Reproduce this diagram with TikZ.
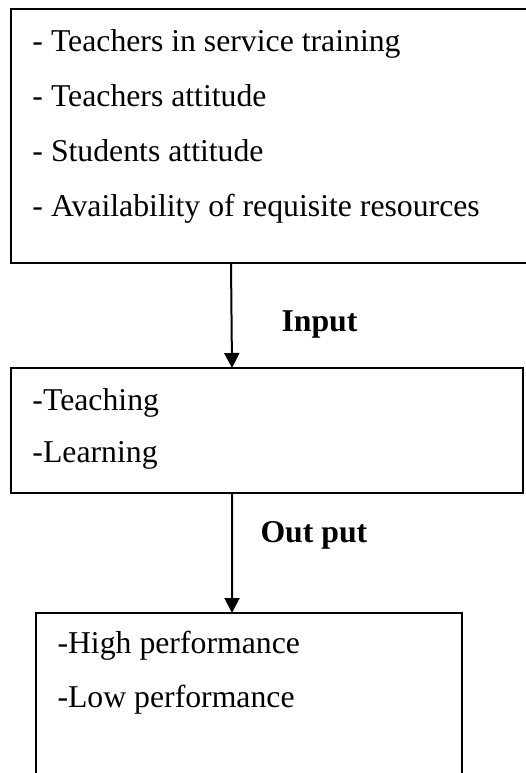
\documentclass[tikz,border=0pt]{standalone}
\usepackage{fontspec}
\setmainfont{Liberation Serif}
\usetikzlibrary{arrows.meta}
\tikzset{
  box/.style={draw, line width=0.8pt, anchor=north west, inner sep=0pt, outer sep=0pt},
  item/.style={anchor=base west, inner sep=0pt, font=\fontsize{12.7}{15}\selectfont},
  tag/.style={anchor=base west, inner sep=0pt, font=\bfseries\fontsize{12.7}{15}\selectfont},
  flow/.style={line width=0.8pt, -{Triangle[width=6pt,length=6pt]}}
}
\begin{document}
\begin{tikzpicture}[x=0.4pt,y=-0.4pt]
                \useasboundingbox (0,0) rectangle (526,773);
                \clip (0,0) rectangle (526,773);
                % boxes
                \path (11,9) node[box, minimum width=211.6pt, minimum height=101.6pt] (factors) {};
                \path (11,368) node[box, minimum width=204.8pt, minimum height=50pt] (process) {};
                \path (36,613) node[box, minimum width=170.4pt, minimum height=74.8pt] (result) {};
                % texts
                \path (32,51) node[item] (f1) {- Teachers in service training};
                \path (32,106) node[item] (f2) {- Teachers attitude};
                \path (32,161) node[item] (f3) {- Students attitude};
                \path (32,216) node[item] (f4) {- Availability of requisite resources};
                \path (32,410) node[item] (p1) {-Teaching};
                \path (32,462) node[item] (p2) {-Learning};
                \path (57,653) node[item] (r1) {-High performance};
                \path (57,707) node[item] (r2) {-Low performance};
                \path (281,331) node[tag] (input) {Input};
                \path (260,542) node[tag] (output) {Out put};
                % arrows
                \draw[flow] ([xshift=88pt]factors.south west) -- ([xshift=88.4pt]process.north west);
                \draw[flow] ([xshift=88.4pt]process.south west) -- ([xshift=78.4pt]result.north west);
              \end{tikzpicture}
\end{document}
